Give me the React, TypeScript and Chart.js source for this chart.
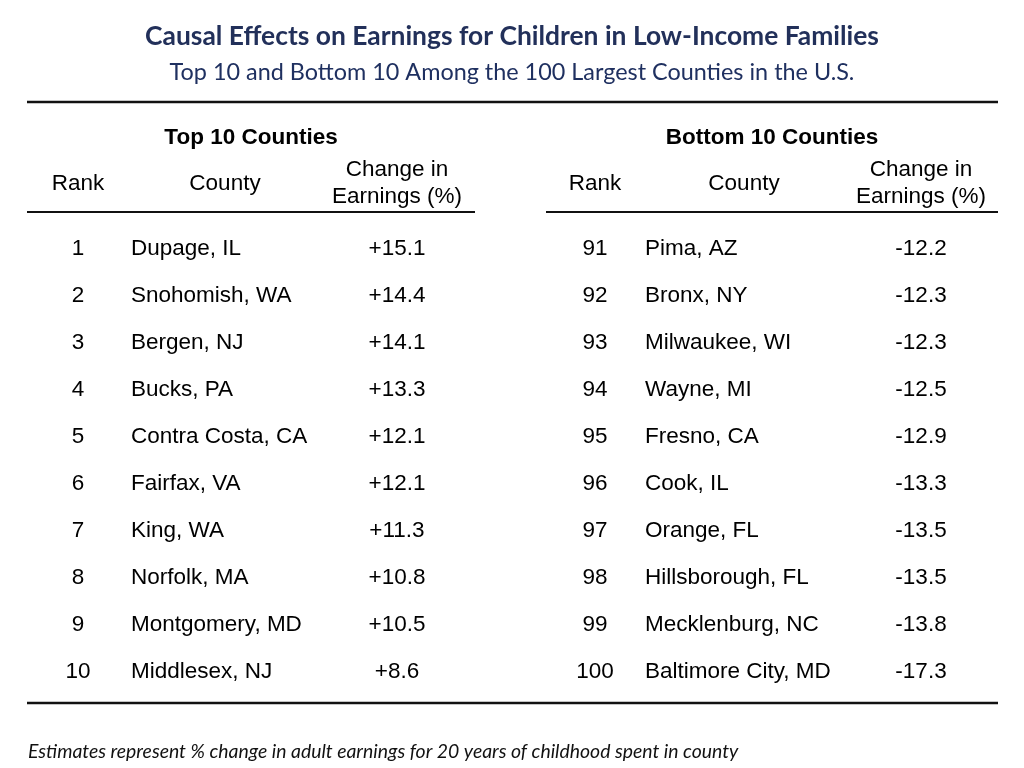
import React, { useEffect, useRef } from "react";
import { Chart, registerables } from "chart.js";

Chart.register(...registerables);

// ---- data ----
const titleText = "Causal Effects on Earnings for Children in Low-Income Families";
const subtitleText = "Top 10 and Bottom 10 Among the 100 Largest Counties in the U.S.";
const footnoteText = "Estimates represent % change in adult earnings for 20 years of childhood spent in county";
const groupTitles = ["Top 10 Counties", "Bottom 10 Counties"];
const headerRank = "Rank";
const headerCounty = "County";
const headerChange = ["Change in", "Earnings (%)"];

const topRanks = [1, 2, 3, 4, 5, 6, 7, 8, 9, 10];
const topCounties = [
  "Dupage, IL", "Snohomish, WA", "Bergen, NJ", "Bucks, PA", "Contra Costa, CA",
  "Fairfax, VA", "King, WA", "Norfolk, MA", "Montgomery, MD", "Middlesex, NJ",
];
const topChange = [15.1, 14.4, 14.1, 13.3, 12.1, 12.1, 11.3, 10.8, 10.5, 8.6];

const bottomRanks = [91, 92, 93, 94, 95, 96, 97, 98, 99, 100];
const bottomCounties = [
  "Pima, AZ", "Bronx, NY", "Milwaukee, WI", "Wayne, MI", "Fresno, CA",
  "Cook, IL", "Orange, FL", "Hillsborough, FL", "Mecklenburg, NC", "Baltimore City, MD",
];
const bottomChange = [-12.2, -12.3, -12.3, -12.5, -12.9, -13.3, -13.5, -13.5, -13.8, -17.3];

// ---- layout (pixel-space scale values) ----
const L = {
  titleY: 36, subtitleY: 72, centerX: 512,
  topRuleY: 102, ruleX0: 27, ruleX1: 998,
  groupY: 138, headY: 184, headY1: 170, headY2: 197,
  headRuleY: 212,
  rowY0: 249, rowStep: 47,
  bottomRuleY: 703, footY: 752, footX: 28,
  panels: [
    { groupX: 251, rankX: 78, countyX: 131, changeX: 397, countyHeadX: 225, ruleX0: 27, ruleX1: 475 },
    { groupX: 772, rankX: 595, countyX: 645, changeX: 921, countyHeadX: 744, ruleX0: 546, ruleX1: 998 },
  ],
};

const fmt = (v: number) => (v > 0 ? "+" : "") + v.toFixed(1);

const tablePlugin = {
  id: "tablePlugin",
  afterDraw(chart: any) {
    const ctx = chart.ctx as CanvasRenderingContext2D;
    const xs = chart.scales.x;
    const ys = chart.scales.y;
    const X = (v: number) => xs.getPixelForValue(v);
    const Y = (v: number) => ys.getPixelForValue(v);
    ctx.save();
    ctx.textBaseline = "middle";

    // title
    ctx.fillStyle = "#22305a";
    ctx.textAlign = "center";
    ctx.font = "bold 26.4px Lato";
    ctx.fillText(titleText, X(L.centerX), Y(L.titleY));
    ctx.fillStyle = "#1f3060";
    ctx.font = "23.4px Lato";
    ctx.fillText(subtitleText, X(L.centerX), Y(L.subtitleY));

    // rules
    ctx.strokeStyle = "#111";
    const hline = (x0: number, x1: number, y: number, w: number) => {
      ctx.lineWidth = w;
      ctx.beginPath();
      ctx.moveTo(X(x0), Y(y));
      ctx.lineTo(X(x1), Y(y));
      ctx.stroke();
    };
    hline(L.ruleX0, L.ruleX1, L.topRuleY, 2.5);
    hline(L.ruleX0, L.ruleX1, L.bottomRuleY, 2.5);

    const panelsData = [
      { ranks: topRanks, counties: topCounties, change: topChange },
      { ranks: bottomRanks, counties: bottomCounties, change: bottomChange },
    ];

    L.panels.forEach((p, pi) => {
      hline(p.ruleX0, p.ruleX1, L.headRuleY, 1.8);
      ctx.fillStyle = "#000";
      ctx.textAlign = "center";
      ctx.font = "bold 22.5px 'Liberation Sans'";
      ctx.fillText(groupTitles[pi], X(p.groupX), Y(L.groupY));
      ctx.font = "22.5px 'Liberation Sans'";
      ctx.fillText(headerRank, X(p.rankX), Y(L.headY));
      ctx.fillText(headerCounty, X(p.countyHeadX), Y(L.headY));
      ctx.fillText(headerChange[0], X(p.changeX), Y(L.headY1));
      ctx.fillText(headerChange[1], X(p.changeX), Y(L.headY2));

      const d = panelsData[pi];
      d.ranks.forEach((r, i) => {
        const y = Y(L.rowY0 + L.rowStep * i);
        ctx.textAlign = "center";
        ctx.fillText(String(r), X(p.rankX), y);
        ctx.fillText(fmt(d.change[i]), X(p.changeX), y);
        ctx.textAlign = "left";
        ctx.fillText(d.counties[i], X(p.countyX), y);
      });
    });

    // footnote
    ctx.fillStyle = "#111";
    ctx.textAlign = "left";
    ctx.font = "italic 19.4px Lato";
    ctx.fillText(footnoteText, X(L.footX), Y(L.footY));
    ctx.restore();
  },
};

export default function App() {
  const ref = useRef<HTMLCanvasElement | null>(null);
  useEffect(() => {
    if (!ref.current) return;
    const chart = new Chart(ref.current, {
      type: "scatter",
      data: { datasets: [{ data: [], pointRadius: 0 }] },
      options: {
        animation: false,
        responsive: false,
        layout: { padding: 0 },
        plugins: { legend: { display: false }, tooltip: { enabled: false } },
        scales: {
          x: { type: "linear", min: 0, max: 1024, display: false },
          y: { type: "linear", min: 0, max: 768, reverse: true, display: false },
        },
      },
      plugins: [tablePlugin],
    });
    return () => chart.destroy();
  }, []);
  return (
    <div style={{ position: "absolute", left: 0, top: 0, width: 1024, height: 768, background: "#fff" }}>
      <canvas ref={ref} width={1024} height={768} />
    </div>
  );
}
